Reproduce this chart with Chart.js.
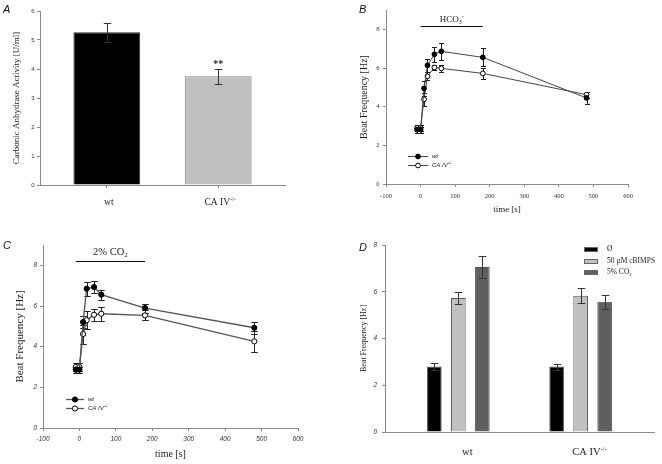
<!DOCTYPE html>
<html lang="en">
<head>
<meta charset="UTF-8">
<title>CA IV and ciliary beat frequency</title>
<script src="https://cdn.jsdelivr.net/npm/chart.js"></script>
<style>
  body { margin: 0; background: #fff; }
  #figure { position: relative; width: 662px; height: 464px; }
  #figure canvas { position: absolute; }
</style>
</head>
<body>
<div id="figure">
  <canvas id="panelA" width="331" height="232" style="left:0;top:0"></canvas>
  <canvas id="panelB" width="331" height="232" style="left:331px;top:0"></canvas>
  <canvas id="panelC" width="331" height="232" style="left:0;top:232px"></canvas>
  <canvas id="panelD" width="331" height="232" style="left:331px;top:232px"></canvas>
</div>
<script>
// A: carbonic anhydrase activity
const genotypes = ['wt', 'CA IV^{-/-}'];
const activity = [5.27, 3.75];
const activityErr = [0.33, 0.25];
const activityTicks = [0, 1, 2, 3, 4, 5, 6];

// B, C: beat frequency over time
const times = [-10, 0, 10, 20, 40, 60, 180, 480];
const timeTicks = [-100, 0, 100, 200, 300, 400, 500, 600];
const freqTicks = [0, 2, 4, 6, 8];
const hco3Wt = [2.81, 2.81, 4.95, 6.14, 6.71, 6.86, 6.55, 4.45];
const hco3WtErr = [0.15, 0.15, 0.4, 0.35, 0.4, 0.45, 0.47, 0.33];
const hco3Ca = [2.9, 2.9, 4.38, 5.57, 6.03, 5.98, 5.72, 4.62];
const hco3CaErr = [0.15, 0.15, 0.35, 0.2, 0.15, 0.2, 0.27, 0.15];
const hco3Period = [0, 180];
const co2Wt = [2.87, 2.87, 5.21, 6.85, 6.93, 6.56, 5.9, 4.93];
const co2WtErr = [0.15, 0.15, 0.3, 0.35, 0.3, 0.25, 0.22, 0.3];
const co2Ca = [3.0, 3.0, 4.62, 5.3, 5.57, 5.62, 5.54, 4.26];
const co2CaErr = [0.2, 0.2, 0.47, 0.45, 0.3, 0.35, 0.25, 0.5];
const co2Period = [-10, 180];

// D: beat frequency by treatment
const treatments = ['Ø', '50 µM cBIMPS', '5% CO_{2}'];
const treatmentColors = ['#000000', '#c0c0c0', '#5f5f5f'];
const wtFreq = [2.8, 5.73, 7.06];
const wtFreqErr = [0.15, 0.26, 0.47];
const caFreq = [2.8, 5.83, 5.57];
const caFreqErr = [0.13, 0.31, 0.29];

const SERIF = '"Liberation Serif", "Times New Roman", serif';
const SANS = '"Liberation Sans", Arial, sans-serif';
const AXIS = '#8a8a8a';
const INK = '#222';

// tiny markup: _{sub} and ^{sup}
function parseRich(str) {
  return str.split(/([_^]\{[^}]*\})/).filter(Boolean).map(s => {
    if (s[0] === '_' && s[1] === '{') return [s.slice(2, -1), 'sub'];
    if (s[0] === '^' && s[1] === '{') return [s.slice(2, -1), 'sup'];
    return [s, ''];
  });
}

function drawRich(ctx, str, x, y, o) {
  const parts = parseRich(str);
  const font = m => `${o.style || ''} ${o.weight || ''} ${m ? o.size * 0.65 : o.size}px ${o.family}`;
  let w = 0;
  parts.forEach(([t, m]) => { ctx.font = font(m); w += ctx.measureText(t).width; });
  let cx = o.align === 'center' ? x - w / 2 : x;
  ctx.save();
  ctx.fillStyle = o.color || INK;
  ctx.textAlign = 'left';
  ctx.textBaseline = 'middle';
  parts.forEach(([t, m]) => {
    ctx.font = font(m);
    const dy = m === 'sup' ? -o.size * 0.35 : m === 'sub' ? o.size * 0.3 : 0;
    ctx.fillText(t, cx, y + dy);
    cx += ctx.measureText(t).width;
  });
  ctx.restore();
}

// error bars, under the markers for lines, over the bars for bar charts
function drawErrors(chart, under) {
  const ctx = chart.ctx;
  const y = chart.scales.y;
  chart.data.datasets.forEach((ds, i) => {
    if (!ds.errors || !!ds.errorsUnder !== under) return;
    const meta = chart.getDatasetMeta(i);
    const half = ds.capWidth / 2;
    ctx.save();
    ctx.strokeStyle = ds.errorColor || '#222';
    ctx.lineWidth = 1;
    meta.data.forEach((el, j) => {
      const v = ds.data[j].y, e = ds.errors[j];
      const px = Math.round(el.x) + 0.5;
      const top = Math.round(y.getPixelForValue(v + e)) + 0.5;
      const bot = Math.round(y.getPixelForValue(v - e)) + 0.5;
      ctx.beginPath();
      ctx.moveTo(px, top); ctx.lineTo(px, bot);
      ctx.moveTo(px - half, top); ctx.lineTo(px + half, top);
      ctx.moveTo(px - half, bot); ctx.lineTo(px + half, bot);
      ctx.stroke();
    });
    ctx.restore();
  });
}

Chart.register({
  id: 'errorBars',
  beforeDatasetsDraw(chart) { drawErrors(chart, true); },
  afterDatasetsDraw(chart) { drawErrors(chart, false); }
});

function axisY(o) {
  return {
    min: o.min, max: o.max,
    afterBuildTicks: s => { s.ticks = o.ticks.map(v => ({ value: v })); },
    afterFit: s => { s.width = o.width; },
    grid: { drawOnChartArea: false, tickLength: 3, color: AXIS },
    border: { color: AXIS },
    ticks: { font: o.tickFont, color: '#333', padding: o.tickPad },
    title: { display: true, text: o.title, font: o.titleFont, color: INK, padding: { top: o.titlePad, bottom: 0 } }
  };
}

function axisTime(o) {
  return {
    type: 'linear', min: -100, max: 600,
    afterBuildTicks: s => { s.ticks = timeTicks.map(v => ({ value: v })); },
    afterFit: s => { s.height = o.height; },
    grid: { drawOnChartArea: false, tickLength: 3, color: AXIS },
    border: { color: AXIS },
    ticks: { font: o.tickFont, color: '#333', padding: o.tickPad, maxRotation: 0, autoSkip: false },
    title: { display: true, text: 'time [s]', font: o.titleFont, color: INK, padding: { top: 0, bottom: o.titlePad } }
  };
}

function axisGroups(o) {
  return {
    type: 'linear', min: -0.6, max: 1.6, offset: false,
    afterBuildTicks: s => { s.ticks = genotypes.map((g, i) => ({ value: i })); },
    afterFit: s => { s.height = o.height; },
    grid: { drawOnChartArea: false, drawTicks: o.drawTicks, tickLength: 3, color: AXIS, offset: false },
    border: { color: AXIS },
    ticks: { display: false }
  };
}

const groupLabels = (y, size, shift) => ({
  id: 'groupLabels',
  afterDraw(chart) {
    const s = chart.scales.x;
    genotypes.forEach((g, i) => drawRich(chart.ctx, g, s.getPixelForValue(i) + shift, y, { size, family: SERIF, align: 'center' }));
  }
});

const panelLetter = (letter, x, y) => ({
  id: 'panelLetter',
  afterDraw(chart) {
    const ctx = chart.ctx;
    ctx.save();
    ctx.font = `italic 11px ${SANS}`;
    ctx.fillStyle = '#111';
    ctx.textBaseline = 'alphabetic';
    ctx.fillText(letter, x, y);
    ctx.restore();
  }
});

const periodBar = (period, level, label, size, gap) => ({
  id: 'periodBar',
  afterDraw(chart) {
    const { x, y } = chart.scales;
    const ctx = chart.ctx;
    const x0 = x.getPixelForValue(period[0]), x1 = x.getPixelForValue(period[1]);
    const py = Math.round(y.getPixelForValue(level)) + 0.5;
    ctx.save();
    ctx.strokeStyle = '#111';
    ctx.lineWidth = 1.2;
    ctx.beginPath(); ctx.moveTo(x0, py); ctx.lineTo(x1, py); ctx.stroke();
    ctx.restore();
    drawRich(ctx, label, (x0 + x1) / 2, py - gap, { size, family: SERIF, align: 'center' });
  }
});

const lineLegend = (x, y0, dy, len, size) => ({
  id: 'lineLegend',
  afterDraw(chart) {
    const ctx = chart.ctx;
    chart.data.datasets.forEach((ds, i) => {
      const y = Math.round(y0 + i * dy) + 0.5;
      ctx.save();
      ctx.strokeStyle = ds.borderColor;
      ctx.lineWidth = ds.borderWidth;
      ctx.beginPath(); ctx.moveTo(x, y); ctx.lineTo(x + len, y); ctx.stroke();
      ctx.beginPath(); ctx.arc(x + len / 2, y, ds.pointRadius, 0, Math.PI * 2);
      ctx.fillStyle = ds.pointBackgroundColor; ctx.fill();
      ctx.strokeStyle = ds.pointBorderColor; ctx.lineWidth = ds.pointBorderWidth; ctx.stroke();
      ctx.restore();
      drawRich(ctx, ds.label, x + len + 4, y, { size, family: SANS, style: 'italic' });
    });
  }
});

const boxLegend = (x, y0, dy, size) => ({
  id: 'boxLegend',
  afterDraw(chart) {
    const ctx = chart.ctx;
    chart.data.datasets.forEach((ds, i) => {
      const y = Math.round(y0 + i * dy);
      ctx.save();
      ctx.fillStyle = ds.backgroundColor;
      ctx.fillRect(x, y - 2, 14, 5);
      ctx.strokeStyle = '#666';
      ctx.lineWidth = 1;
      ctx.strokeRect(x + 0.5, y - 1.5, 13, 4);
      ctx.restore();
      drawRich(ctx, ds.label, x + 23, y + 0.5, { size, family: SERIF });
    });
  }
});

const significance = {
  id: 'significance',
  afterDraw(chart) {
    const { x, y } = chart.scales;
    const ctx = chart.ctx;
    ctx.save();
    ctx.font = `bold 10px ${SERIF}`;
    ctx.fillStyle = INK;
    ctx.textAlign = 'center';
    ctx.textBaseline = 'top';
    ctx.fillText('**', x.getPixelForValue(1), y.getPixelForValue(activity[1] + activityErr[1]) - 10);
    ctx.restore();
  }
};

const baseOptions = padding => ({
  responsive: false,
  maintainAspectRatio: false,
  animation: false,
  layout: { padding },
  plugins: { legend: { display: false }, tooltip: { enabled: false } }
});

function series(label, values, errs, fill, line, width, radius, cap) {
  return {
    label,
    data: times.map((t, i) => ({ x: t, y: values[i] })),
    errors: errs, errorsUnder: true, capWidth: cap, errorColor: '#222',
    borderColor: line, borderWidth: width, tension: 0, fill: false,
    pointRadius: radius, pointBackgroundColor: fill, pointBorderColor: '#000', pointBorderWidth: 1
  };
}

// A
new Chart(document.getElementById('panelA'), {
  type: 'bar',
  data: {
    datasets: [{
      data: activity.map((v, i) => ({ x: i, y: v })),
      errors: activityErr, capWidth: 7.5, errorColor: '#333',
      backgroundColor: ['#000000', '#c0c0c0'],
      borderColor: ['#333333', '#808080'],
      borderWidth: 1,
      categoryPercentage: 1,
      barPercentage: 0.6
    }]
  },
  options: {
    ...baseOptions({ left: 0, right: 46, top: 11, bottom: 0 }),
    scales: {
      x: axisGroups({ height: 47, drawTicks: true }),
      y: axisY({
        min: 0, max: 6, ticks: activityTicks, width: 40,
        tickFont: { family: SANS, size: 6 }, tickPad: 2.5,
        title: 'Carbonic Anhydrase Activity [U/ml]', titleFont: { family: SERIF, size: 9 }, titlePad: 11.6
      })
    }
  },
  plugins: [groupLabels(202.7, 9.5, 2), significance, panelLetter('A', 3, 12.5)]
});

// B
new Chart(document.getElementById('panelB'), {
  type: 'line',
  data: {
    datasets: [
      series('wt', hco3Wt, hco3WtErr, '#000000', '#444444', 1, 2.4, 5),
      series('CA IV^{-/-}', hco3Ca, hco3CaErr, '#ffffff', '#444444', 1, 2.4, 5)
    ]
  },
  options: {
    ...baseOptions({ left: 0, right: 34, top: 10, bottom: 0 }),
    scales: {
      x: axisTime({ height: 48, tickFont: { family: SERIF, size: 6.5 }, tickPad: 5.4, titleFont: { family: SERIF, size: 9 }, titlePad: 16.6 }),
      y: axisY({
        min: 0, max: 9, ticks: freqTicks, width: 55,
        tickFont: { family: SERIF, size: 6.5 }, tickPad: 3.5,
        title: 'Beat Frequency [Hz]', titleFont: { family: SERIF, size: 10 }, titlePad: 27.3
      })
    }
  },
  plugins: [periodBar(hco3Period, 8.17, 'HCO_{3}^{-}', 9, 7), lineLegend(77, 156, 8.5, 20, 6), panelLetter('B', 28, 13)]
});

// C
new Chart(document.getElementById('panelC'), {
  type: 'line',
  data: {
    datasets: [
      series('wt', co2Wt, co2WtErr, '#000000', '#555555', 1.3, 2.6, 6.5),
      series('CA IV^{-/-}', co2Ca, co2CaErr, '#ffffff', '#555555', 1.3, 2.6, 6.5)
    ]
  },
  options: {
    ...baseOptions({ left: 0, right: 33, top: 13, bottom: 0 }),
    scales: {
      x: axisTime({ height: 36, tickFont: { family: SANS, size: 6.5, style: 'italic' }, tickPad: 3.8, titleFont: { family: SERIF, size: 10 }, titlePad: 3.3 }),
      y: axisY({
        min: 0, max: 9, ticks: freqTicks, width: 43,
        tickFont: { family: SANS, size: 6.5, style: 'italic' }, tickPad: 3,
        title: 'Beat Frequency [Hz]', titleFont: { family: SERIF, size: 11 }, titlePad: 14
      })
    }
  },
  plugins: [periodBar(co2Period, 8.2, '2% CO_{2}', 10.5, 9), lineLegend(66, 166.7, 9.3, 18, 6), panelLetter('C', 3, 17)]
});

// D
new Chart(document.getElementById('panelD'), {
  type: 'bar',
  data: {
    datasets: treatments.map((t, k) => ({
      label: t,
      data: [{ x: 0, y: wtFreq[k] }, { x: 1, y: caFreq[k] }],
      errors: [wtFreqErr[k], caFreqErr[k]], capWidth: 7.5, errorColor: '#333',
      backgroundColor: treatmentColors[k],
      borderColor: '#555555',
      borderWidth: 1,
      categoryPercentage: 0.589,
      barPercentage: 0.61
    }))
  },
  options: {
    ...baseOptions({ left: 0, right: 8, top: 13, bottom: 0 }),
    scales: {
      x: axisGroups({ height: 32, drawTicks: false }),
      y: axisY({
        min: 0, max: 8, ticks: freqTicks, width: 54,
        tickFont: { family: SANS, size: 6.5, style: 'italic' }, tickPad: 5,
        title: 'Beat Frequency [Hz]', titleFont: { family: SERIF, size: 8 }, titlePad: 28.2
      })
    }
  },
  plugins: [groupLabels(220.7, 10.5, 9), boxLegend(253, 17.3, 11.5, 7.5), panelLetter('D', 28, 18.5)]
});
</script>
</body>
</html>
